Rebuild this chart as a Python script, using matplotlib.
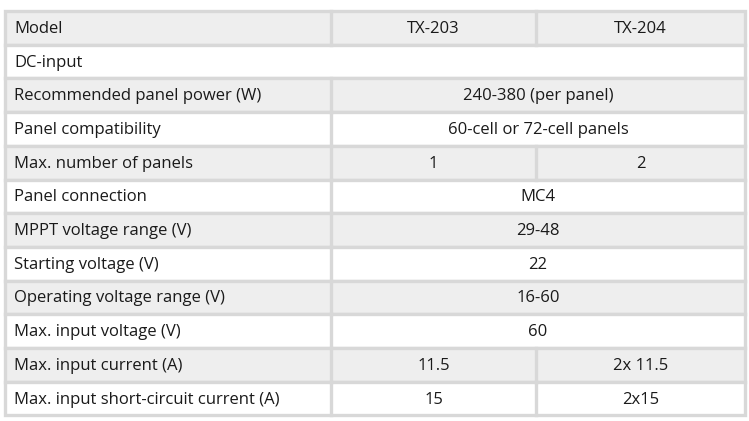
import matplotlib
matplotlib.use("Agg")
import matplotlib.pyplot as plt
from matplotlib.patches import Rectangle

row_labels = ["Model", "DC-input", "Recommended panel power (W)", "Panel compatibility",
              "Max. number of panels", "Panel connection", "MPPT voltage range (V)",
              "Starting voltage (V)", "Operating voltage range (V)", "Max. input voltage (V)",
              "Max. input current (A)", "Max. input short-circuit current (A)"]
tx203 = ["TX-203", None, "240-380 (per panel)", "60-cell or 72-cell panels", "1", "MC4",
         "29-48", "22", "16-60", "60", "11.5", "15"]
tx204 = ["TX-204", None, None, None, "2", None, None, None, None, None, "2x 11.5", "2x15"]

W, H = 749, 421
fig = plt.figure(figsize=(W/100, H/100), dpi=100)
ax = fig.add_axes([0, 0, 1, 1])
ax.set_xlim(0, W); ax.set_ylim(H, 0); ax.axis("off")

x0, x1, x2, x3 = 5, 331, 536, 745
top, rh = 11, 33.7
border = "#d8d8d8"
font = dict(family="Open Sans", fontsize=12, color="#1a1a1a", va="center")

for i, lab in enumerate(row_labels):
    y = top + i * rh
    fill = "#eeeeee" if i % 2 == 0 else "white"
    ax.add_patch(Rectangle((x0, y), x3 - x0, rh, facecolor=fill, edgecolor=border, lw=2.4))
    ax.text(x0 + 9, y + rh / 2 + 1, lab, ha="left", **font)
    a, b = tx203[i], tx204[i]
    if a is None and b is None:
        continue
    ax.plot([x1, x1], [y, y + rh], color=border, lw=2.4)
    if b is None:
        ax.text((x1 + x3) / 2, y + rh / 2 + 1, a, ha="center", **font)
    else:
        ax.plot([x2, x2], [y, y + rh], color=border, lw=2.4)
        ax.text((x1 + x2) / 2, y + rh / 2 + 1, a, ha="center", **font)
        ax.text((x2 + x3) / 2, y + rh / 2 + 1, b, ha="center", **font)

fig.savefig("out.png", dpi=100, facecolor="white")
